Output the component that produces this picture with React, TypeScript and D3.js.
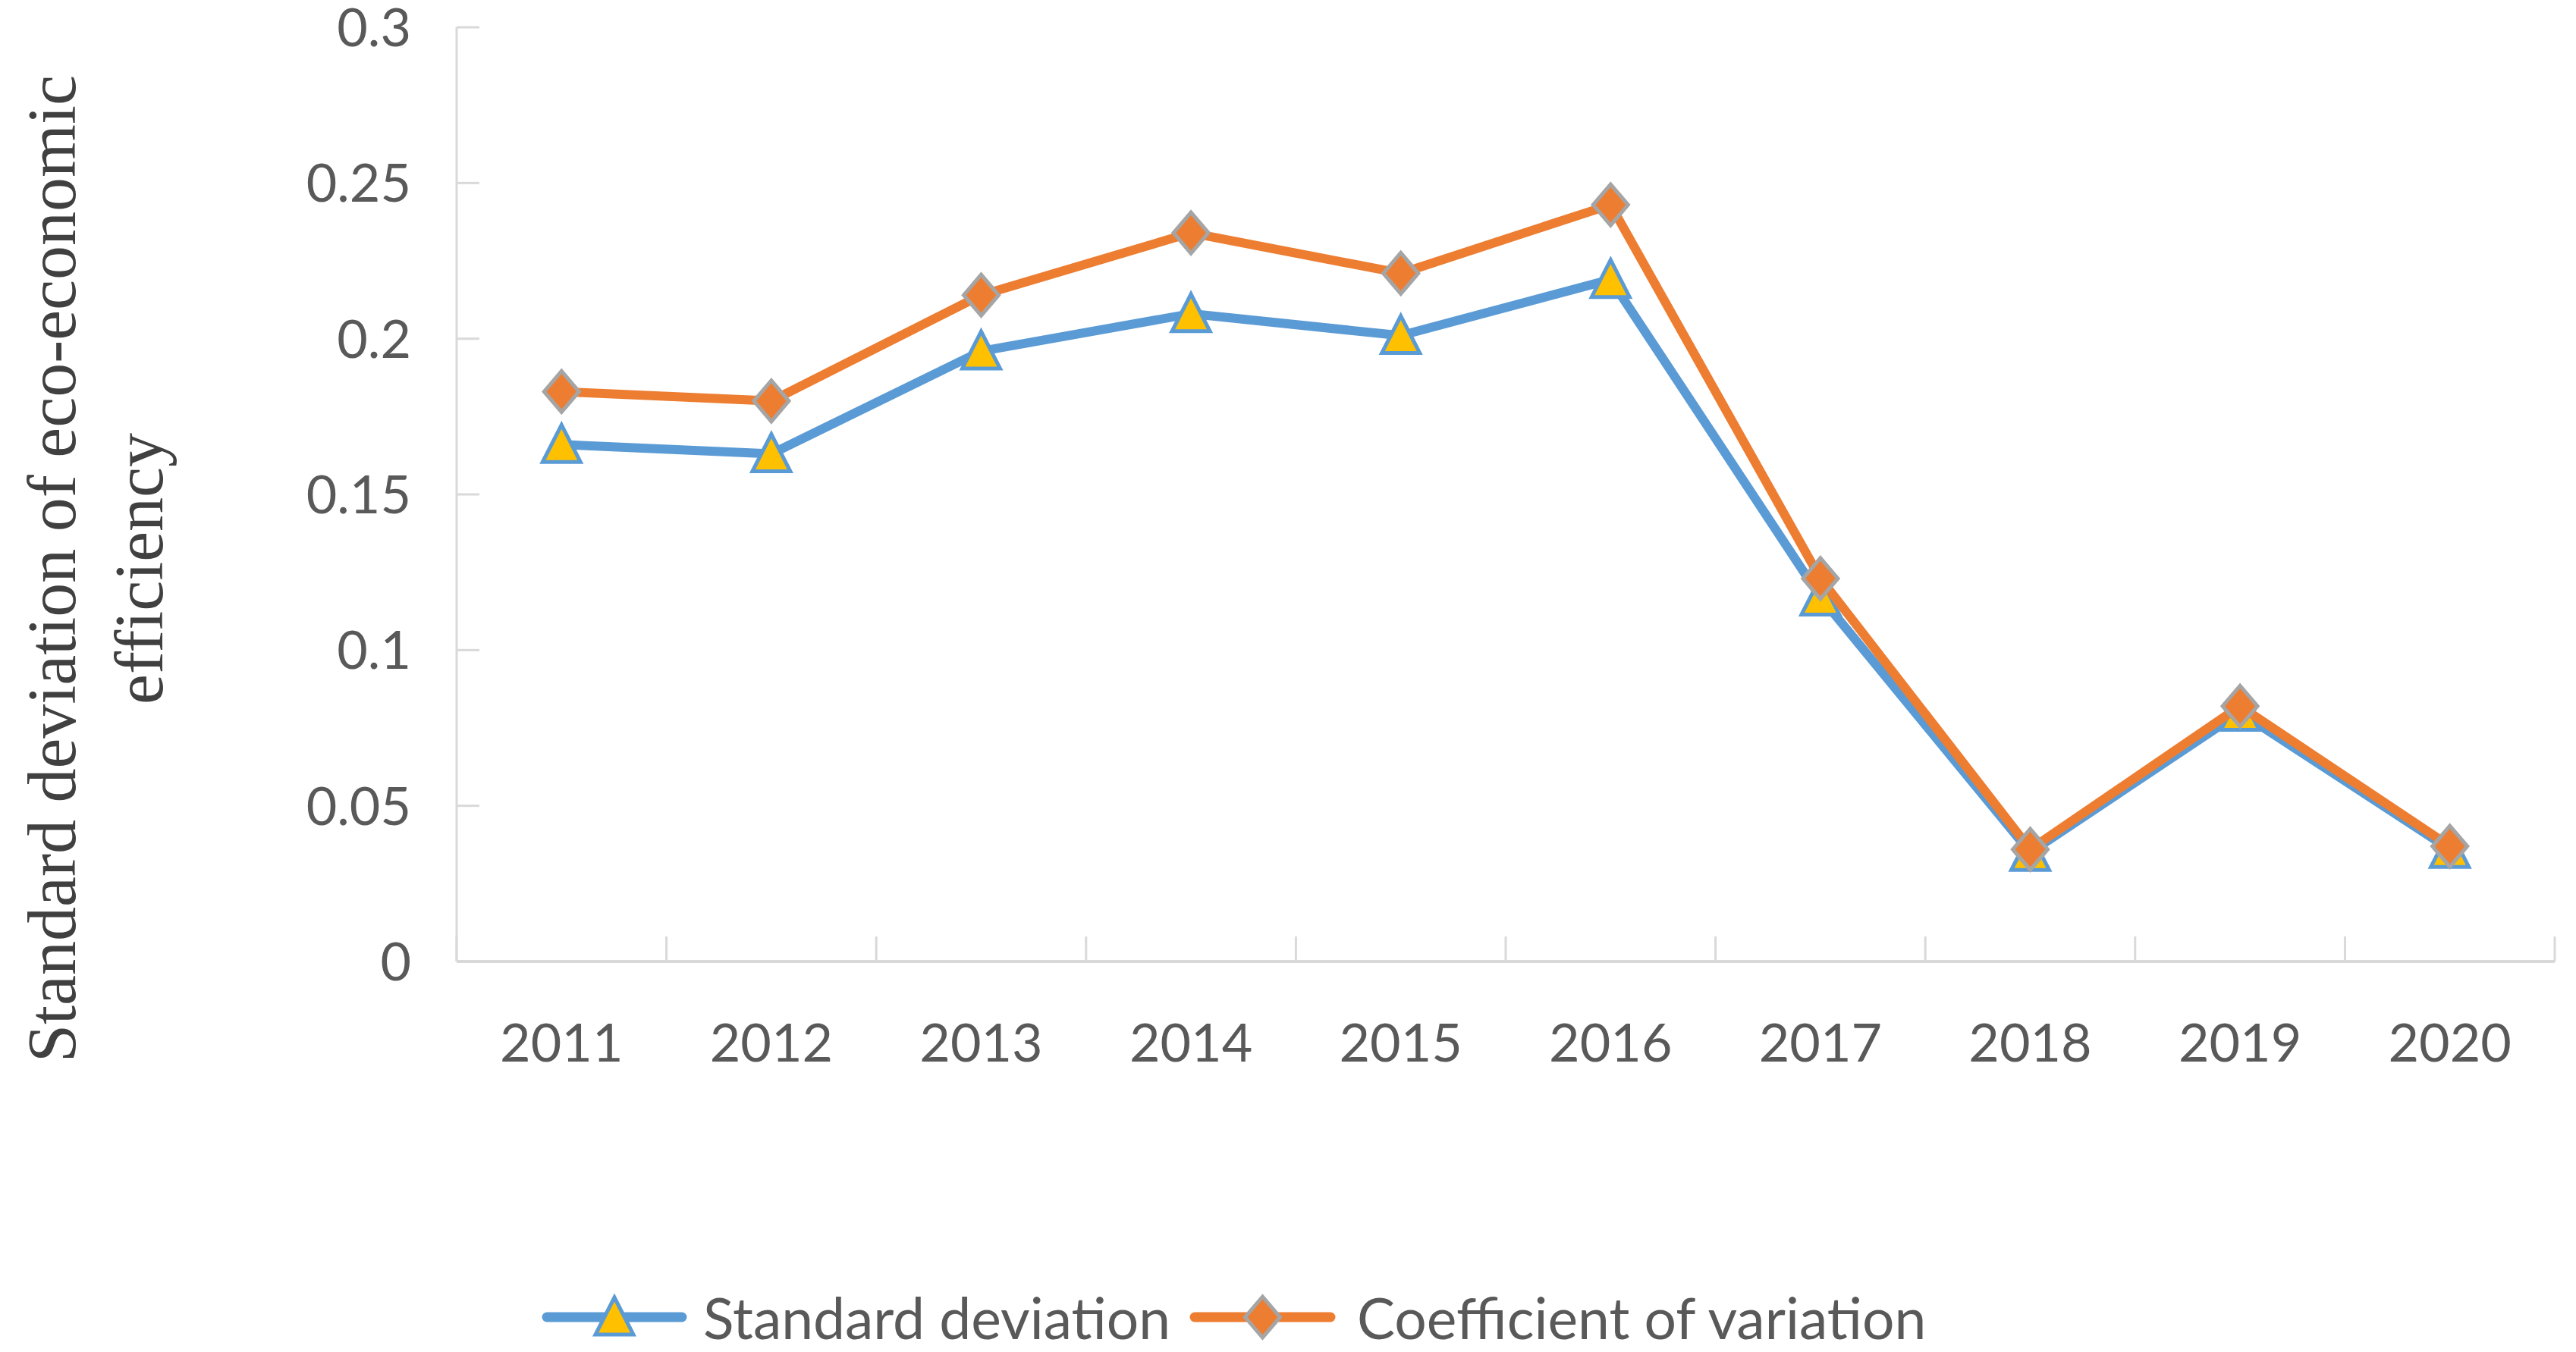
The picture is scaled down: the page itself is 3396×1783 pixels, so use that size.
import * as d3 from "d3";

// chart values
const years = ["2011", "2012", "2013", "2014", "2015", "2016", "2017", "2018", "2019", "2020"];
const stdDev = [0.166, 0.163, 0.196, 0.208, 0.201, 0.219, 0.117, 0.035, 0.080, 0.036];
const coefVar = [0.183, 0.180, 0.214, 0.234, 0.221, 0.243, 0.123, 0.036, 0.082, 0.037];
const yTicks = [0, 0.05, 0.1, 0.15, 0.2, 0.25, 0.3];
const yTitleLines = ["Standard deviation of eco-economic", "efficiency"];
const seriesNames = ["Standard deviation", "Coefficient of variation"];

const W = 3396;
const H = 1783;
const plot = { left: 602, right: 3368, top: 36, bottom: 1268 };

const BLUE = "#5B9BD5";
const ORANGE = "#ED7D31";
const GOLD = "#FFC000";
const GREY_EDGE = "#A5A5A5";
const AXIS = "#D9D9D9";
const TEXT = "#595959";
const FONT = "Lato, 'Open Sans', sans-serif";

const triangle = "M0,-26L25,23L-25,23Z";
const diamond = "M0,-27L23,0L0,27L-23,0Z";

export default function App() {
    const x = d3.scaleBand().domain(years).range([plot.left, plot.right]).padding(0);
    const y = d3.scaleLinear().domain([0, 0.3]).range([plot.bottom, plot.top]);
    const cx = (yr: string) => (x(yr) ?? 0) + x.bandwidth() / 2;

    const line = d3.line<number>()
        .x((_, i) => cx(years[i]))
        .y(v => y(v));

    const boundaries = [...years.map(yr => x(yr) ?? 0), plot.right];

    const Triangle = ({ tx, ty }: { tx: number; ty: number }) => (
        <path d={triangle} transform={`translate(${tx},${ty})`} fill={GOLD} stroke={BLUE} strokeWidth={5} strokeLinejoin="miter" />
    );
    const Diamond = ({ tx, ty }: { tx: number; ty: number }) => (
        <path d={diamond} transform={`translate(${tx},${ty})`} fill={ORANGE} stroke={GREY_EDGE} strokeWidth={5} />
    );

    // legend layout
    const legendY = 1737;
    const leg1 = { x1: 721, x2: 899, text: 927 };
    const leg2 = { x1: 1575, x2: 1754, text: 1789 };

    return (
        <div style={{ position: "absolute", left: 0, top: 0 }}>
            <svg width={W} height={H} viewBox={`0 0 ${W} ${H}`} style={{ display: "block", background: "#fff" }}>
                {/* y axis title */}
                <g transform="translate(68,750) rotate(-90)">
                    {yTitleLines.map((t, i) => (
                        <text key={t} x={0} y={i * 115} textAnchor="middle" dominantBaseline="central"
                            fontFamily="'Liberation Serif', 'Times New Roman', serif" fontSize={90} fill="#404040">
                            {t}
                        </text>
                    ))}
                </g>

                {/* axes */}
                <line x1={plot.left} x2={plot.left} y1={y(0.3)} y2={plot.bottom} stroke={AXIS} strokeWidth={3} />
                {yTicks.map(t => (
                    <g key={t}>
                        <line x1={plot.left} x2={plot.left + 30} y1={y(t)} y2={y(t)} stroke={AXIS} strokeWidth={3} />
                        <text x={542} y={y(t) + 25} textAnchor="end"
                            fontFamily={FONT} fontSize={70} fill={TEXT}>
                            {t}
                        </text>
                    </g>
                ))}
                <line x1={plot.left} x2={plot.right} y1={plot.bottom} y2={plot.bottom} stroke={AXIS} strokeWidth={4} />
                {boundaries.map((bx, i) => (
                    <line key={i} x1={bx} x2={bx} y1={plot.bottom} y2={plot.bottom - 33} stroke={AXIS} strokeWidth={3} />
                ))}
                {years.map(yr => (
                    <text key={yr} x={cx(yr)} y={1400} textAnchor="middle"
                        fontFamily={FONT} fontSize={70} fill={TEXT}>
                        {yr}
                    </text>
                ))}

                {/* standard deviation */}
                <path d={line(stdDev) ?? ""} fill="none" stroke={BLUE} strokeWidth={12} strokeLinejoin="round" strokeLinecap="round" />
                {stdDev.map((v, i) => <Triangle key={i} tx={cx(years[i])} ty={y(v)} />)}

                {/* coefficient of variation */}
                <path d={line(coefVar) ?? ""} fill="none" stroke={ORANGE} strokeWidth={12} strokeLinejoin="round" strokeLinecap="round" />
                {coefVar.map((v, i) => <Diamond key={i} tx={cx(years[i])} ty={y(v)} />)}

                {/* legend */}
                <line x1={leg1.x1} x2={leg1.x2} y1={legendY} y2={legendY} stroke={BLUE} strokeWidth={13} strokeLinecap="round" />
                <Triangle tx={(leg1.x1 + leg1.x2) / 2} ty={legendY} />
                <text x={leg1.text} y={legendY} dominantBaseline="central" fontFamily={FONT} fontSize={75} fill={TEXT}>
                    {seriesNames[0]}
                </text>
                <line x1={leg2.x1} x2={leg2.x2} y1={legendY} y2={legendY} stroke={ORANGE} strokeWidth={13} strokeLinecap="round" />
                <Diamond tx={(leg2.x1 + leg2.x2) / 2} ty={legendY} />
                <text x={leg2.text} y={legendY} dominantBaseline="central" fontFamily={FONT} fontSize={75} fill={TEXT}>
                    {seriesNames[1]}
                </text>
            </svg>
        </div>
    );
}
